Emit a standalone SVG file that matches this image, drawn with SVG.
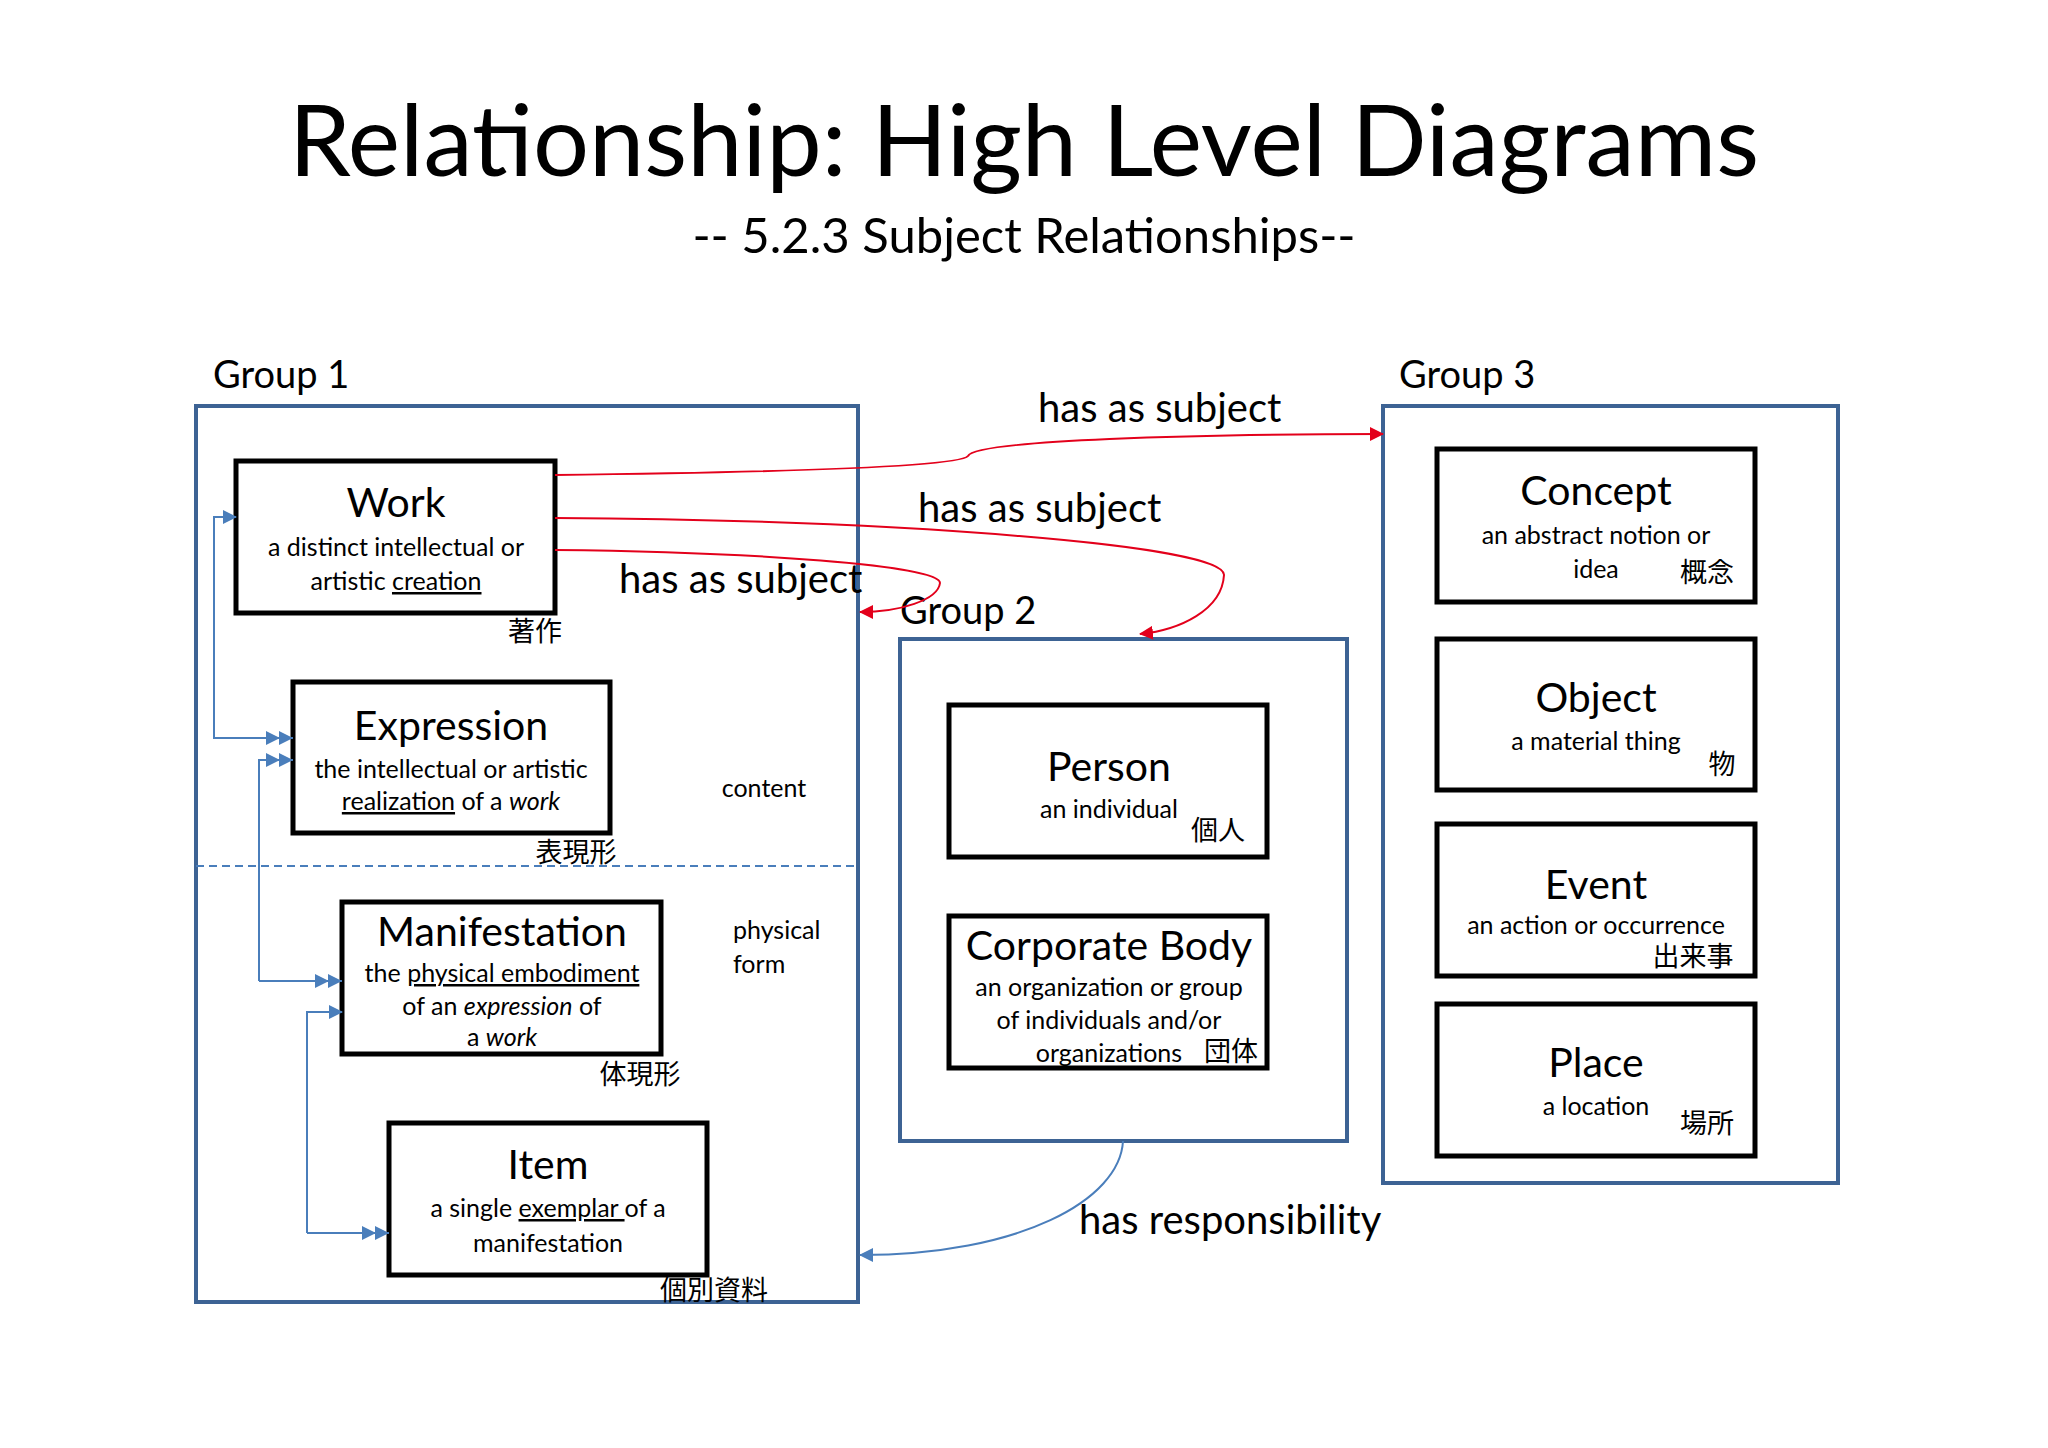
<svg xmlns="http://www.w3.org/2000/svg" width="2048" height="1448" viewBox="0 0 2048 1448">
<style>
text{font-family:Lato,"Noto Sans","Noto Sans CJK JP",sans-serif;fill:#000}
.t{font-size:99px;text-anchor:middle}
.st{font-size:49px;text-anchor:middle}
.g{font-size:38px}
.grp{fill:none;stroke:#3d6394;stroke-width:4}
.box{fill:#fff;stroke:#000;stroke-width:5}
.h{font-size:41px;text-anchor:middle}
.d{font-size:25px;text-anchor:middle}
.j{font-size:27px;text-anchor:middle;font-family:"Noto Sans CJK JP",sans-serif}
.lab{font-size:40px}
.u{text-decoration:underline}
.i{font-style:italic}
.red{fill:none;stroke:#e3001b;stroke-width:2}
.blu{fill:none;stroke:#4a7ebb;stroke-width:2}
</style>
<defs>
<marker id="ar" markerWidth="14" markerHeight="14" refX="13" refY="7" orient="auto" markerUnits="userSpaceOnUse"><path d="M0,0 L14,7 L0,14 z" fill="#e3001b"/></marker>
<marker id="ab" markerWidth="14" markerHeight="14" refX="13" refY="7" orient="auto" markerUnits="userSpaceOnUse"><path d="M0,0 L14,7 L0,14 z" fill="#4a7ebb"/></marker>
<marker id="ab2" markerWidth="28" markerHeight="14" refX="27" refY="7" orient="auto" markerUnits="userSpaceOnUse"><path d="M0,0 L14,7 L0,14 z M13,0 L27,7 L13,14 z" fill="#4a7ebb"/></marker>
</defs>
<rect width="2048" height="1448" fill="#fff"/>
<text class="t" x="1024" y="176">Relationship: High Level Diagrams</text>
<text class="st" x="1024" y="253">-- 5.2.3 Subject Relationships--</text>

<g id="group1">
<text class="g" x="213" y="388">Group 1</text>
<rect class="grp" x="196" y="406" width="662" height="896"/>
<line x1="196" y1="866" x2="858" y2="866" stroke="#4a7ebb" stroke-width="2" stroke-dasharray="8,5"/>
<text class="d" x="764" y="797">content</text>
<text class="d" x="733" y="939" style="text-anchor:start">physical</text>
<text class="d" x="733" y="973" style="text-anchor:start">form</text>
</g>
<g id="work">
<rect class="box" x="236" y="461" width="319" height="152"/>
<text class="h" x="396" y="517">Work</text>
<text class="d" x="396" y="556">a distinct intellectual or</text>
<text class="d" x="396" y="590">artistic <tspan class="u">creation</tspan></text>
<text class="j" x="535" y="641">著作</text>
</g>
<g id="expression">
<rect class="box" x="293" y="682" width="317" height="151"/>
<text class="h" x="451" y="740">Expression</text>
<text class="d" x="451" y="778">the intellectual or artistic</text>
<text class="d" x="451" y="810"><tspan class="u">realization</tspan> of a <tspan class="i">work</tspan></text>
<text class="j" x="576" y="862">表現形</text>
</g>
<g id="manifestation">
<rect class="box" x="342" y="902" width="319" height="152"/>
<text class="h" x="502" y="946">Manifestation</text>
<text class="d" x="502" y="982">the <tspan class="u">physical embodiment</tspan></text>
<text class="d" x="502" y="1015">of an <tspan class="i">expression</tspan> of</text>
<text class="d" x="502" y="1046">a <tspan class="i">work</tspan></text>
<text class="j" x="640" y="1084">体現形</text>
</g>
<g id="item">
<rect class="box" x="389" y="1123" width="318" height="152"/>
<text class="h" x="548" y="1179">Item</text>
<text class="d" x="548" y="1217">a single <tspan class="u">exemplar </tspan>of a</text>
<text class="d" x="548" y="1252">manifestation</text>
<text class="j" x="714" y="1300">個別資料</text>
</g>

<g id="group2">
<text class="g" x="900" y="624">Group 2</text>
<rect class="grp" x="900" y="639" width="447" height="502"/>
</g>
<g id="person">
<rect class="box" x="949" y="705" width="318" height="152"/>
<text class="h" x="1109" y="781">Person</text>
<text class="d" x="1109" y="818">an individual</text>
<text class="j" x="1218" y="840">個人</text>
</g>
<g id="corporate">
<rect class="box" x="949" y="916" width="318" height="152"/>
<text class="h" x="1109" y="960">Corporate Body</text>
<text class="d" x="1109" y="996">an organization or group</text>
<text class="d" x="1109" y="1029">of individuals and/or</text>
<text class="d" x="1109" y="1062">organizations</text>
<text class="j" x="1231" y="1061">団体</text>
</g>

<g id="group3">
<text class="g" x="1399" y="388">Group 3</text>
<rect class="grp" x="1383" y="406" width="455" height="777"/>
</g>
<g id="concept">
<rect class="box" x="1437" y="449" width="318" height="153"/>
<text class="h" x="1596" y="505">Concept</text>
<text class="d" x="1596" y="544">an abstract notion or</text>
<text class="d" x="1596" y="578">idea</text>
<text class="j" x="1707" y="582">概念</text>
</g>
<g id="object">
<rect class="box" x="1437" y="639" width="318" height="151"/>
<text class="h" x="1596" y="712">Object</text>
<text class="d" x="1596" y="750">a material thing</text>
<text class="j" x="1722" y="774">物</text>
</g>
<g id="event">
<rect class="box" x="1437" y="824" width="318" height="152"/>
<text class="h" x="1596" y="899">Event</text>
<text class="d" x="1596" y="934">an action or occurrence</text>
<text class="j" x="1693" y="966">出来事</text>
</g>
<g id="place">
<rect class="box" x="1437" y="1004" width="318" height="152"/>
<text class="h" x="1596" y="1077">Place</text>
<text class="d" x="1596" y="1115">a location</text>
<text class="j" x="1707" y="1133">場所</text>
</g>

<g id="connectors">
<polyline class="blu" points="236,517 214,517 214,738 293,738" marker-end="url(#ab2)"/>
<path class="blu" d="M214,517 L236,517" marker-end="url(#ab)"/>
<polyline class="blu" points="259,981 259,760 293,760" marker-end="url(#ab2)"/>
<path class="blu" d="M259,981 L342,981" marker-end="url(#ab2)"/>
<polyline class="blu" points="307,1233 307,1012 342,1012" marker-end="url(#ab)"/>
<path class="blu" d="M307,1233 L389,1233" marker-end="url(#ab2)"/>

<path class="red" d="M555,475 C 800,472 960,466 968,456 C 975,440 1200,434 1383,434" marker-end="url(#ar)"/>
<path class="red" d="M555,518 C 900,520 1225,545 1224,575 C 1222,610 1180,630 1140,634" marker-end="url(#ar)"/>
<path class="red" d="M555,550 C 750,552 940,565 940,583 C 938,600 900,612 860,612" marker-end="url(#ar)"/>
<path class="blu" d="M1123,1141 C 1120,1200 1020,1255 860,1255" marker-end="url(#ab)"/>
<text class="lab" x="1038" y="422">has as subject</text>
<text class="lab" x="918" y="522">has as subject</text>
<text class="lab" x="619" y="593">has as subject</text>
<text class="lab" x="1079" y="1234">has responsibility</text>
</g>
</svg>
